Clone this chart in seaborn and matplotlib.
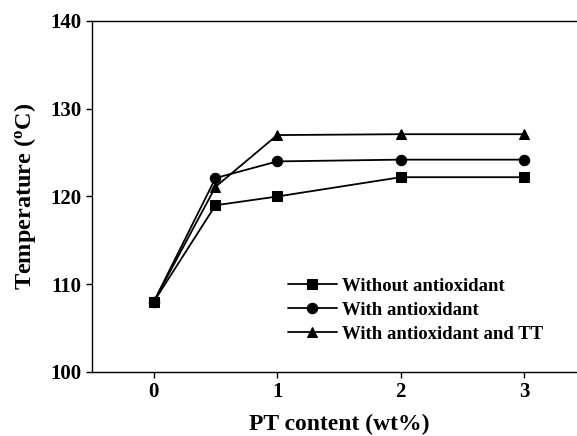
import matplotlib
matplotlib.use("Agg")
import matplotlib.pyplot as plt
import seaborn as sns
import pandas as pd

pt_content = [0, 0.5, 1, 2, 3]
without_antioxidant = [108, 119, 120, 122.2, 122.2]
with_antioxidant = [108, 122.1, 124.0, 124.2, 124.2]
with_antioxidant_tt = [108, 121.1, 127.0, 127.1, 127.1]
series_names = ["Without antioxidant", "With antioxidant", "With antioxidant and TT"]
x_ticks = [0, 1, 2, 3]
y_ticks = [100, 110, 120, 130, 140]

sns.set_style("ticks")
plt.rcParams['font.family'] = ['Liberation Serif', 'DejaVu Serif']
plt.rcParams['font.weight'] = 'bold'
plt.rcParams['text.color'] = 'black'
plt.rcParams['axes.labelcolor'] = 'black'
plt.rcParams['xtick.color'] = 'black'
plt.rcParams['ytick.color'] = 'black'
plt.rcParams['mathtext.fontset'] = 'custom'
plt.rcParams['mathtext.rm'] = 'Liberation Serif:bold'
plt.rcParams['mathtext.it'] = 'Liberation Serif:bold'
plt.rcParams['mathtext.bf'] = 'Liberation Serif:bold'

rows = []
for name, vals in zip(series_names, [without_antioxidant, with_antioxidant, with_antioxidant_tt]):
    for x, v in zip(pt_content, vals):
        rows.append({"x": x, "y": v, "series": name})
df = pd.DataFrame(rows)

fig = plt.figure(figsize=(5.77, 4.36), dpi=100)
ax = fig.add_axes([92/577, 1 - 372/436, 494/577, 351/436])

sns.lineplot(data=df, x="x", y="y", hue="series", style="series",
             markers=["s", "o", "^"], dashes=False,
             palette=["black", "black", "black"], ax=ax,
             linewidth=1.3, markersize=7.5, markeredgecolor="black",
             hue_order=series_names, style_order=series_names)

ax.set_xlim(-0.5, 3.5)
ax.set_ylim(100, 140)
ax.set_xticks(x_ticks)
ax.set_yticks(y_ticks)
ax.tick_params(axis='both', direction='out', length=4, width=1, labelsize=15, colors='black')
for lbl in ax.get_xticklabels() + ax.get_yticklabels():
    lbl.set_fontweight('bold')
ax.spines['right'].set_visible(False)
for s in ['left', 'top', 'bottom']:
    ax.spines[s].set_linewidth(1.0)
    ax.spines[s].set_color('black')

ax.set_xlabel("PT content (wt%)", fontsize=17, fontweight='bold', labelpad=8)
ax.set_ylabel("Temperature ($^{\\mathrm{o}}$C)", fontsize=17.5, fontweight='bold', labelpad=9)

leg = ax.legend(loc='upper left', bbox_to_anchor=(0.397, 0.268), frameon=False,
                fontsize=13.5, handlelength=2.6, handletextpad=0.3,
                labelspacing=0.36, borderpad=0, borderaxespad=0)

fig.savefig("out.png", dpi=100)
